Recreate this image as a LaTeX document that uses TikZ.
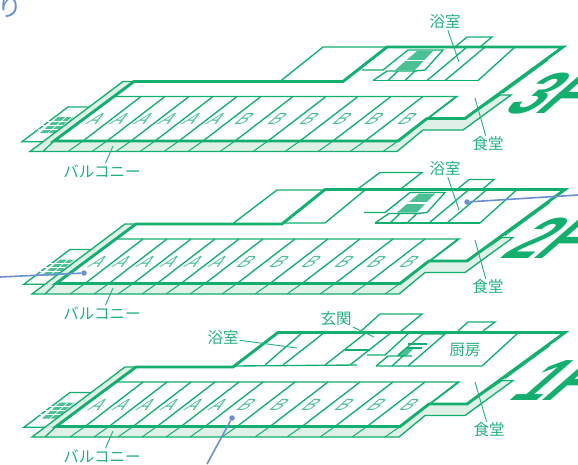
\documentclass[tikz,border=0pt]{standalone}
\usepackage{fontspec}
\setmainfont{Liberation Sans}
\newfontfamily\jp{Noto Sans CJK JP}
\definecolor{gr}{HTML}{12AF6E}
\definecolor{grt}{HTML}{22B07E}
\definecolor{grl}{HTML}{DFF0E6}
\definecolor{grh}{HTML}{4CC095}
\definecolor{bl}{HTML}{6C8FD2}
\tikzset{
 thin line/.style={draw=gr,line width=1.35pt,line join=miter},
 thick line/.style={draw=gr,line width=2.9pt,line join=miter},
 lab/.style={font=\jp\fontsize{15.5}{16}\selectfont,text=grt,inner sep=1pt},
 leader/.style={draw=grt,line width=0.9pt},
 unit/.style={font=\fontsize{17}{17}\selectfont,text=grh,inner sep=0pt,transform shape,xslant=1.15,yscale=.95},
 dot/.style={circle,fill=bl,inner sep=0pt,minimum size=5.5pt},
 blue line/.style={draw=bl,line width=1.6pt},
 big/.style={font=\bfseries\fontsize{58}{58}\selectfont,text=gr,inner sep=0pt,transform shape,xslant=1.15,anchor=base west},
}
\newcommand{\floorbase}[2]{%
 \fill[white,thin line] (22,141.7)--(68,107)--(92,107)--(60,141.7)--cycle;
 \fill[grh] (40,133)--(57,133)--(73,117)--(58,117)--cycle;
 \foreach \yy in {121,125,129}{\draw[white,line width=.7pt] (38,\yy)--(76,\yy);}
 \draw[white,line width=.6pt] (48,133)--(66,117) (56,133)--(72,117);
 \fill[grl,thin line] (30,151.5)--(123,81.5)--(134,81.5)--(54,141)--(398,141)--(427,118.5)--(465,118.5)--(500,95)--(511,95)--(463,130)--(423,130)--(397,151.5)--cycle;
 \draw[thin line] (43,151.5)--(54,141);
 \foreach \b in {83,107,131,155,179,203,235,268,300,333,365,398}{
  \draw[thin line,line width=1pt] (\b-15,151.5)--(\b,141);
 }
 \fill[white] (54,141)--(134,81.5)--(#2,81.5)--(#1,47)--(563,47)--(465,118.5)--(428,118.5)--(457,96.5)--(114,96.5)--cycle;
 \fill[white] (54,141)--(398,141)--(428,118.5)--(457,96.5)--(114,96.5)--cycle;
 \foreach \b in {83,107,131,155,179,203,235,268,300,333,365,398}{
  \draw[thin line] (\b,141)--(\b+58,96.5);
 }
 \draw[thin line] (114,96.5)--(457,96.5)--(428,118.5);
 \draw[thick line] (54,141)--(398,141)--(427,118.5)--(465,118.5)--(563,47)--(#1,47)--(#2,81.5)--(134,81.5)--cycle;
 \foreach \u/\x in {A/97,A/121,A/145,A/169,A/193,A/217,B/245,B/278,B/310,B/343,B/375,B/408}{
  \begin{scope}[shift={(\x,119)}]\node[unit] at (0,0) {\u};\end{scope}
 }
 \draw[thin line,line width=1pt] (548,60)--(503,93) (545,60)--(500,93);
}
\newcommand{\wing}{%
 \fill[grh] (395,70)--(415,70)--(433,51)--(417,51)--cycle;
 \draw[white,line width=1.2pt] (405,60.5)--(426,60.5);
 \draw[thin line] (373,80.5)--(478,80.5);
 \draw[thin line] (373,80.5)--(387,71)--(415,71)--(405,80.5);
 \draw[thin line] (388,80.5)--(398,71);
 \draw[thin line] (362,70)--(383,70)--(408,50)--(443,50)--(425,70)--(415,71);
 \draw[thin line] (427,80.5)--(467,47) (445,80.5)--(485,47) (478,80.5)--(515,47);
 \draw[thin line] (455,47)--(467,37)--(492,37)--(480,47);
}
\begin{document}
\begin{tikzpicture}[x=1pt,y=-1pt]
\useasboundingbox (0,0) rectangle (578,464);
\node[font=\jp\fontsize{25}{25}\selectfont,text=bl,inner sep=0pt] (kana) at (10,7) {り};

% ---- 3F
\begin{scope}
 \floorbase{387}{343}
 \draw[thin line] (280,81.5)--(323,47)--(387,47);
 \wing
\end{scope}
\begin{scope}[shift={(500,113)}]\node[big] (f3) at (0,0) {3F};\end{scope}
\node[lab] (bath3) at (445,22) {浴室};
\coordinate (bath3e) at (459,62);
\draw[leader] (bath3) -- (bath3e);
\node[lab] (din3) at (488,144) {食堂};
\coordinate (din3e) at (475,98);
\draw[leader] (din3) -- (din3e);
\node[lab] (bal3) at (102,171) {バルコニー};
\coordinate (bal3e) at (113,146);
\draw[leader] (bal3) -- (bal3e);

% ---- 2F
\begin{scope}[shift={(2,142.5)}]
 \floorbase{323}{280}
 \draw[thin line] (231,81)--(275,47.5)--(323,47.5);
 \draw[thin line] (283,80.5)--(323,80.5)--(363,47.5);
 \draw[thin line] (355,47)--(378,30)--(420,30)--(398,47);
 \wing
\end{scope}
\begin{scope}[shift={(498,258)}]\node[big] (f2) at (0,0) {2F};\end{scope}
\node[lab] (bath2) at (445,169) {浴室};
\coordinate (bath2e) at (459,210);
\draw[leader] (bath2) -- (bath2e);
\node[lab] (din2) at (488,287) {食堂};
\coordinate (din2e) at (475,240);
\draw[leader] (din2) -- (din2e);
\node[lab] (bal2) at (102,313) {バルコニー};
\coordinate (bal2e) at (113,288);
\draw[leader] (bal2) -- (bal2e);
\node[dot] (d2a) at (467,202) {};
\coordinate (d2ae) at (578,195);
\draw[blue line] (d2a) -- (d2ae);
\node[dot] (d2b) at (84,273) {};
\coordinate (d2be) at (0,277);
\draw[blue line] (d2b) -- (d2be);

% ---- 1F
\begin{scope}[shift={(2,285.5)}]
 \floorbase{276}{231}
\end{scope}
\draw[thin line] (233,366)--(357,365);
\draw[thin line] (265,365)--(303,332) (283,365)--(325,332) (325,365)--(367,332) (350,365)--(392,332);
\draw[thin line] (345,350)--(370,350);
\draw[thin line] (367,355)--(385,355)--(410,332);
\draw[thin line] (360,332)--(380,314)--(422,314)--(400,332);
\fill[grh] (397,356)--(406,356)--(415,347)--(407,347)--cycle;
\draw[thin line] (376,366)--(482,366)--(518,333);
\draw[thin line] (376,366)--(388,356)--(412,356);
\draw[thin line] (392,366)--(403,356);
\draw[thin line] (408,366)--(445,334)--(423,334)--(398,355);
\draw[thin line] (408,344)--(427,344) (407,348)--(422,348);
\draw[thin line] (458,331)--(468,322)--(495,322)--(483,331);
\begin{scope}[shift={(506,400)}]\node[big] (f1) at (0,0) {1F};\end{scope}
\node[lab] (bath1) at (223,338) {浴室};
\coordinate (bath1e) at (297,348);
\draw[leader] (bath1) -- (bath1e);
\node[lab] (ent1) at (336,319) {玄関};
\coordinate (ent1e) at (374,337);
\draw[leader] (ent1) -- (ent1e);
\node[lab] (kit1) at (465,350) {厨房};
\node[lab] (din1) at (489,430) {食堂};
\coordinate (din1e) at (475,382);
\draw[leader] (din1) -- (din1e);
\node[lab] (bal1) at (102,456) {バルコニー};
\coordinate (bal1e) at (113,431);
\draw[leader] (bal1) -- (bal1e);
\node[dot] (d1) at (232,418) {};
\coordinate (d1e) at (207,464);
\draw[blue line] (d1) -- (d1e);
\end{tikzpicture}
\end{document}
